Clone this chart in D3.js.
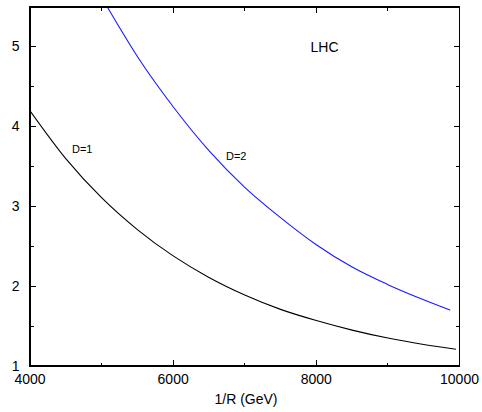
<!DOCTYPE html>
<html>
<head>
<meta charset="utf-8">
<script src="https://cdn.jsdelivr.net/npm/d3@7"></script>
<style>
    body { margin: 0; background: #fff; }
    svg text { font-family: "Liberation Sans", Arial, sans-serif; fill: #000; }
</style>
</head>
<body>
<script>

// 1/R values (GeV) and the two curves
var rD1 = [4000, 4500, 5000, 5500, 6000, 6500, 7000, 7500, 8000, 8500, 9000, 9500, 9950];
var valD1 = [4.20, 3.60, 3.11, 2.71, 2.38, 2.11, 1.89, 1.71, 1.57, 1.45, 1.35, 1.27, 1.21];

var rD2 = [5080, 5500, 6000, 6500, 7000, 7500, 8000, 8500, 9000, 9500, 9870];
var valD2 = [5.50, 4.88, 4.25, 3.70, 3.24, 2.86, 2.52, 2.24, 2.02, 1.83, 1.70];

var xMajor = [4000, 6000, 8000, 10000];
var xMinor = [5000, 7000, 9000];
var yMajor = [1, 2, 3, 4, 5];
var yMinor = [1.5, 2.5, 3.5, 4.5];

var width = 482, height = 412;
// plot frame edges (note: "top" is a reserved window prop, so use pTop etc)
var pLeft = 30, pRight = 459.5, pTop = 7, pBottom = 366;

var svg = d3.select("body").append("svg")
    .attr("width", width)
    .attr("height", height);

var xScale = d3.scaleLinear().domain([4000, 10000]).range([pLeft, pRight]);
var yScale = d3.scaleLinear().domain([1, 5.5]).range([pBottom, pTop]);

// ticks, inward on all four sides (gnuplot mirror style)
function xticks(g, vals, len) {
    g.append("g")
        .selectAll("line").data(vals).enter().append("line")
        .attr("x1", function (d) { return xScale(d); })
        .attr("x2", function (d) { return xScale(d); })
        .attr("y1", pBottom).attr("y2", pBottom - len);
    g.append("g")
        .selectAll("line").data(vals).enter().append("line")
        .attr("x1", function (d) { return xScale(d); })
        .attr("x2", function (d) { return xScale(d); })
        .attr("y1", pTop).attr("y2", pTop + len);
}
function yticks(g, vals, len) {
    g.append("g")
        .selectAll("line").data(vals).enter().append("line")
        .attr("y1", function (d) { return yScale(d); })
        .attr("y2", function (d) { return yScale(d); })
        .attr("x1", pLeft).attr("x2", pLeft + len);
    g.append("g")
        .selectAll("line").data(vals).enter().append("line")
        .attr("y1", function (d) { return yScale(d); })
        .attr("y2", function (d) { return yScale(d); })
        .attr("x1", pRight).attr("x2", pRight - len);
}

var tickG = svg.append("g")
    .attr("stroke", "#000")
    .attr("stroke-width", 1)
    .attr("shape-rendering", "crispEdges");
xticks(tickG, xMajor, 6);
xticks(tickG, xMinor, 3.5);
yticks(tickG, yMajor, 6);
yticks(tickG, yMinor, 3.5);

// tick labels
svg.append("g").selectAll("text").data(xMajor).enter().append("text")
    .attr("x", function (d) { return xScale(d); })
    .attr("y", pBottom + 18)
    .attr("text-anchor", "middle")
    .style("font-size", "14px")
    .text(function (d) { return d; });

svg.append("g").selectAll("text").data(yMajor).enter().append("text")
    .attr("x", 19.5)
    .attr("y", function (d) { return yScale(d) + 4.5; })
    .attr("text-anchor", "end")
    .style("font-size", "14px")
    .text(function (d) { return d; });

// axis title
svg.append("text")
    .attr("x", 246)
    .attr("y", 404)
    .attr("text-anchor", "middle")
    .style("font-size", "14px")
    .text("1/R (GeV)");

// curves
var line = d3.line()
    .x(function (d) { return xScale(d[0]); })
    .y(function (d) { return yScale(d[1]); })
    .curve(d3.curveMonotoneX);

svg.append("clipPath").attr("id", "plotclip")
    .append("rect")
    .attr("x", pLeft).attr("y", pTop)
    .attr("width", pRight - pLeft).attr("height", pBottom - pTop);

var curves = svg.append("g").attr("clip-path", "url(#plotclip)");

curves.append("path")
    .datum(d3.zip(rD1, valD1))
    .attr("fill", "none")
    .attr("stroke", "#000")
    .attr("stroke-width", 1.1)
    .attr("d", line);

curves.append("path")
    .datum(d3.zip(rD2, valD2))
    .attr("fill", "none")
    .attr("stroke", "#1a1aff")
    .attr("stroke-width", 1.1)
    .attr("d", line);

// frame
svg.append("rect")
    .attr("x", pLeft).attr("y", pTop)
    .attr("width", pRight - pLeft).attr("height", pBottom - pTop)
    .attr("fill", "none")
    .attr("stroke", "#000")
    .attr("stroke-width", 1.2)
    .attr("shape-rendering", "crispEdges");

// labels inside the plot
svg.append("text")
    .attr("x", 72).attr("y", 152.5)
    .style("font-size", "11px")
    .text("D=1");

svg.append("text")
    .attr("x", 226).attr("y", 159.5)
    .style("font-size", "11px")
    .text("D=2");

svg.append("text")
    .attr("x", 310.5).attr("y", 51.5)
    .style("font-size", "14px")
    .text("LHC");

</script>
</body>
</html>
